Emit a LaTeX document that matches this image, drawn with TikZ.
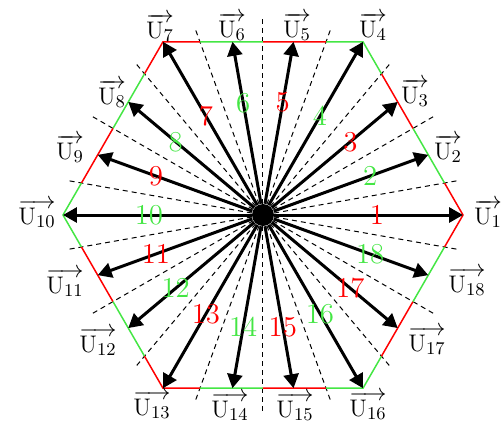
\documentclass[tikz,border=0pt]{standalone}
\usepackage{amsmath}
\usetikzlibrary{arrows.meta}
\definecolor{oddred}{HTML}{FF0000}
\definecolor{evengreen}{HTML}{44E644}
\tikzset{
  vec/.style={-{Triangle[length=7pt,width=7.5pt]}, line width=1.5pt},
  border/.style={line width=0.75pt},
  sectorline/.style={dash pattern=on 2.5pt off 2pt, line width=0.5pt},
  vlabel/.style={font=\fontsize{13}{15}\selectfont, inner sep=0pt, anchor=base},
  numlabel/.style={font=\Large, inner sep=0pt},
  hub/.style={circle, fill=black, inner sep=0pt, minimum size=11pt}
}
% U_k with a low arrow over it
\newcommand{\uname}[1]{\setbox0\hbox{$\mathrm{U}_{#1}$}%
  \rlap{\raisebox{0.6em}{\makebox[\wd0]{\rightarrowfill}}}\box0}

\begin{document}
\begin{tikzpicture}[x=0.5pt, y=0.5pt]
  \useasboundingbox (-263,-210) rectangle (241,215);
  \node[hub] (center) at (0,0) {};
  % sector borders
  \foreach \j in {0,...,17}
    \draw[sectorline] (center) -- (10+20*\j:198) coordinate (d\j);
  % hexagon, one colour per sector
  \foreach \i in {0,...,5}
    \coordinate (h\i) at (60*\i:200);
  \foreach \k in {1,...,18} {
    \ifodd\k \def\col{oddred}\else \def\col{evengreen}\fi
    \begin{scope}
      \clip (0,0) -- ({20*\k-30}:300) -- ({20*\k-10}:300) -- cycle;
      \draw[border, \col] (h0) -- (h1) -- (h2) -- (h3) -- (h4) -- (h5) -- cycle;
    \end{scope}
  }
  % vectors and sector numbers
  \foreach \k in {1,...,18} {
    \ifodd\k \def\col{oddred}\else \def\col{evengreen}\fi
    \pgfmathsetmacro{\r}{mod(\k-1,3)==0 ? 200 : 175.9}
    \coordinate (tip\k) at ({20*(\k-1)}:\r);
    \draw[vec] (center) -- (tip\k);
    \node[numlabel, text=\col] (n\k) at ({20*(\k-1)}:114) {\k};
  }
  % vector names (baseline positions)
  \foreach \k/\x/\y in {1/225/-9, 2/185/56, 3/152/112, 4/110/178, 5/34/178,
      6/-31/178, 7/-103/177, 8/-151/111, 9/-193/56, 10/-226/-9,
      11/-198/-78, 12/-165/-137, 13/-111/-200, 14/-33/-202, 15/32/-202,
      16/105/-201, 17/164/-136, 18/204/-77}
    \node[vlabel] (u\k) at (\x,\y) {\uname{\k}};
\end{tikzpicture}
\end{document}
